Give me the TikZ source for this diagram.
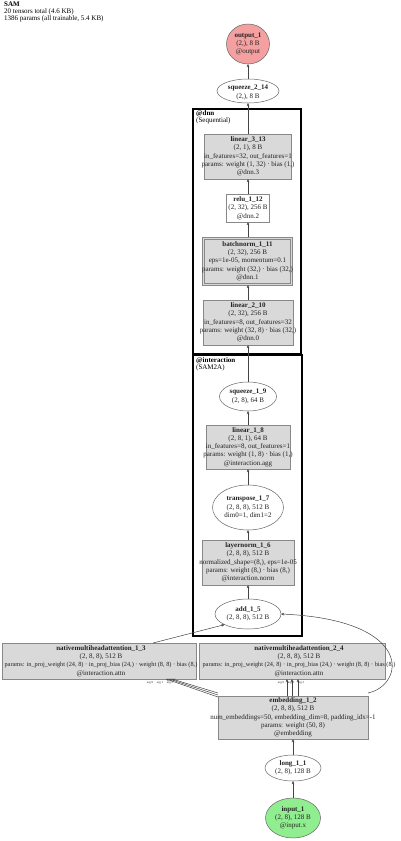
\documentclass[tikz,border=0pt]{standalone}
\usepackage{fontspec}
\setmainfont{Liberation Serif}
\usetikzlibrary{shapes.geometric,arrows.meta}
\definecolor{boxfill}{HTML}{D9D9D9}
\definecolor{boxline}{HTML}{888888}
\definecolor{ellline}{HTML}{666666}
\definecolor{edgecol}{HTML}{444444}
\definecolor{outfill}{HTML}{F4A0A0}
\definecolor{infill}{HTML}{90EE90}
\definecolor{txtcol}{HTML}{222222}
\newcommand{\nfont}{\fontsize{7}{8.3}\selectfont}
\newcommand{\pfont}{\fontsize{6.3}{8.3}\selectfont}
\newcommand{\hfont}{\fontsize{7}{7}\selectfont}
\newcommand{\afont}{\fontsize{3}{3}\selectfont}
\tikzset{
  shp/.style={inner sep=0pt, outer sep=0pt},
  gbox/.style={shp, rectangle, draw=boxline, fill=boxfill, line width=0.6pt},
  wbox/.style={shp, rectangle, draw=boxline, fill=white, line width=0.6pt},
  ell/.style={shp, ellipse, draw=ellline, fill=white, line width=0.5pt},
  txt/.style={align=center, inner sep=0pt, font=\nfont, text=txtcol},
  conn/.style={draw=edgecol, line width=0.5pt, -{Stealth[length=3.2pt,width=2.6pt]}},
  clus/.style={shp, rectangle, draw=black, line width=1.8pt},
  clab/.style={anchor=north west, align=left, inner sep=0pt, font=\hfont},
  alab/.style={inner sep=0pt, font=\afont, text=txtcol},
}
\begin{document}
\begin{tikzpicture}[x=1pt, y=-1pt]
\useasboundingbox[fill=white] (0,0) rectangle (400,841);

% header
\node[clab] (hdr) at (4,2) {\textbf{SAM}\\20 tensors total (4.6 KB)\\1386 params (all trainable, 5.4 KB)};

% clusters
\node[clus, minimum width=108pt, minimum height=245pt] (dnn) at (247,231.5) {};
\node[clab] (dnnl) at (196,110) {\textbf{@dnn}\\(Sequential)};
\node[clus, minimum width=109pt, minimum height=281pt] (inter) at (247.5,495.5) {};
\node[clab] (interl) at (196,357) {\textbf{@interaction}\\(SAM2A)};

% output / squeeze_2_14
\node[shp, ellipse, draw=ellline, fill=outfill, line width=0.5pt, minimum width=43pt, minimum height=40pt] (out) at (248,44) {};
\node[txt] (outt) at (out.center) {\textbf{output\_1}\\(2,), 8 B\\@output};
\node[ell, minimum width=62pt, minimum height=24pt] (sq214) at (248,91) {};
\node[txt] (sq214t) at (248,92.5) {\textbf{squeeze\_2\_14}\\(2,), 8 B};

% dnn
\node[gbox, minimum width=87pt, minimum height=45pt] (l313) at (248,156.5) {};
\node[txt] (l313t) at (l313.center) {\textbf{linear\_3\_13}\\(2, 1), 8 B\\in\_features=32, out\_features=1\\params: weight (1, 32) · bias (1,)\\@dnn.3};
\node[wbox, minimum width=43pt, minimum height=28pt] (relu) at (248,208) {};
\node[txt] (relut) at (relu.center) {\textbf{relu\_1\_12}\\(2, 32), 256 B\\@dnn.2};
\node[gbox, minimum width=90pt, minimum height=48pt] (bn) at (247.5,261) {};
\node[shp, rectangle, draw=boxline, line width=0.6pt, minimum width=86pt, minimum height=44pt] (bnin) at (bn.center) {};
\node[txt] (bnt) at (bn.center) {\textbf{batchnorm\_1\_11}\\(2, 32), 256 B\\eps=1e-05, momentum=0.1\\params: weight (32,) · bias (32,)\\@dnn.1};
\node[gbox, minimum width=90pt, minimum height=45pt] (l210) at (248,322.5) {};
\node[txt] (l210t) at (l210.center) {\textbf{linear\_2\_10}\\(2, 32), 256 B\\in\_features=8, out\_features=32\\params: weight (32, 8) · bias (32,)\\@dnn.0};

% interaction
\node[ell, minimum width=57pt, minimum height=29pt] (sq19) at (248,396.5) {};
\node[txt] (sq19t) at (sq19.center) {\textbf{squeeze\_1\_9}\\(2, 8), 64 B};
\node[gbox, minimum width=84pt, minimum height=44pt] (l18) at (248,447) {};
\node[txt] (l18t) at (l18.center) {\textbf{linear\_1\_8}\\(2, 8, 1), 64 B\\in\_features=8, out\_features=1\\params: weight (1, 8) · bias (1,)\\@interaction.agg};
\node[ell, minimum width=71pt, minimum height=45pt] (tr17) at (248,507.5) {};
\node[txt] (tr17t) at (tr17.center) {\textbf{transpose\_1\_7}\\(2, 8, 8), 512 B\\dim0=1, dim1=2};
\node[gbox, minimum width=92pt, minimum height=45pt] (ln16) at (248,562.5) {};
\node[txt] (ln16t) at (ln16.center) {\textbf{layernorm\_1\_6}\\(2, 8, 8), 512 B\\normalized\_shape=(8,), eps=1e-05\\params: weight (8,) · bias (8,)\\@interaction.norm};
\node[ell, minimum width=66pt, minimum height=30pt] (add) at (248,614) {};
\node[txt] (addt) at (add.center) {\textbf{add\_1\_5}\\(2, 8, 8), 512 B};

% attention boxes
\node[gbox, minimum width=194pt, minimum height=36pt] (a13) at (99,661) {};
\node[txt] (a13t) at (101,661) {\textbf{nativemultiheadattention\_1\_3}\\(2, 8, 8), 512 B\\{\pfont params: in\_proj\_weight (24, 8) · in\_proj\_bias (24,) · weight (8, 8) · bias (8,)}\\@interaction.attn};
\node[gbox, minimum width=186pt, minimum height=36pt] (a24) at (292.5,661) {};
\node[txt] (a24t) at (299,661) {\textbf{nativemultiheadattention\_2\_4}\\(2, 8, 8), 512 B\\{\pfont params: in\_proj\_weight (24, 8) · in\_proj\_bias (24,) · weight (8, 8) · bias (8,)}\\@interaction.attn};

% embedding, long, input
\node[gbox, minimum width=150pt, minimum height=43pt] (emb) at (293,717.5) {};
\node[txt] (embt) at (emb.center) {\textbf{embedding\_1\_2}\\(2, 8, 8), 512 B\\num\_embeddings=50, embedding\_dim=8, padding\_idx=-1\\params: weight (50, 8)\\@embedding};
\node[ell, minimum width=56pt, minimum height=26pt] (long) at (293,768) {};
\node[txt] (longt) at (long.center) {\textbf{long\_1\_1}\\(2, 8), 128 B};
\node[shp, ellipse, draw=ellline, fill=infill, line width=0.5pt, minimum width=55pt, minimum height=40pt] (inp) at (293,818) {};
\node[txt] (inpt) at (inp.center) {\textbf{input\_1}\\(2, 8), 128 B\\@input.x};

% vertical chain
\draw[conn] (inp.north) -- (long.south);
\draw[conn] (long.north) -- (emb.south);
\draw[conn] (add.north) -- (ln16.south);
\draw[conn] (ln16.north) -- (tr17.south);
\draw[conn] (tr17.north) -- (l18.south);
\draw[conn] (l18.north) -- (sq19.south);
\draw[conn] (sq19.north) -- (l210.south);
\draw[conn] (l210.north) -- ([xshift=0.5pt]bn.south);
\draw[conn] ([xshift=0.5pt]bn.north) -- (relu.south);
\draw[conn] (relu.north) -- (l313.south);
\draw[conn] (l313.north) -- (sq214.south);
\draw[conn] (sq214.north) -- (out.south);

% attention to add
\draw[conn] ([xshift=54pt]a13.north) -- (add.south west);

% embedding to attention 1_3 (three args)
\draw[conn] ([yshift=-1pt]emb.north west) -- ([xshift=-30pt]a13.south east);
\draw[conn] ([yshift=1pt]emb.north west) -- ([xshift=-27pt]a13.south east);
\draw[conn] ([yshift=3pt]emb.north west) -- ([xshift=-24pt]a13.south east);
\node[alab] (l130) at (150,682.5) {arg 0};
\node[alab] (l131) at (160,682.5) {arg 1};
\node[alab] (l132) at (170,682.5) {arg 2};

% embedding to attention 2_4 (three args)
\draw[conn] ([xshift=-6pt]emb.north) -- ([xshift=-5.5pt]a24.south);
\draw[conn] ([xshift=-1pt]emb.north) -- ([xshift=-0.5pt]a24.south);
\draw[conn] ([xshift=5pt]emb.north) -- ([xshift=5.5pt]a24.south);
\node[alab] (l240) at (281,682.5) {arg 0};
\node[alab] (l241) at (291,682.5) {arg 1};
\node[alab] (l242) at (301,682.5) {arg 2};

% embedding to add (curve)
\draw[conn] ([yshift=3pt]emb.north east) .. controls (405,685) and (415,620) .. (add.east);
\end{tikzpicture}
\end{document}
